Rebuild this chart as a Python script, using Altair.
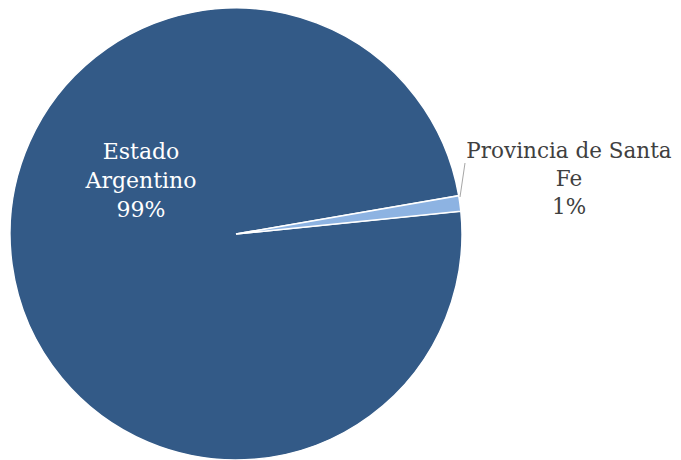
import altair as alt
import pandas as pd
import math

categories = ["Estado Argentino", "Provincia de Santa Fe"]
values = [98.9, 1.1]
colors = ["#335A87", "#8DB3E2"]
label_lines = [["Estado", "Argentino", "99%"], ["Provincia de Santa", "Fe", "1%"]]

df = pd.DataFrame({"category": categories, "value": values, "order": [0, 1]})

start = 84.2 * math.pi / 180

pie = alt.Chart(df).mark_arc(stroke="white", strokeWidth=1.5).encode(
    theta=alt.Theta("value:Q", stack=True, scale=alt.Scale(range=[start, start + 2 * math.pi])),
    color=alt.Color("category:N", scale=alt.Scale(domain=categories, range=colors), legend=None),
    order=alt.Order("order:Q"),
    x=alt.value(228),
    y=alt.value(226),
    radius=alt.value(226),
)

font = "DejaVu Serif"
lab1 = alt.Chart(pd.DataFrame({"t": [label_lines[0]]})).mark_text(
    font=font, fontSize=22, color="white", align="center", baseline="middle", lineHeight=29
).encode(text="t", x=alt.value(133), y=alt.value(144))

lab2 = alt.Chart(pd.DataFrame({"t": [label_lines[1]]})).mark_text(
    font=font, fontSize=21.5, color="#404040", align="center", baseline="middle", lineHeight=28
).encode(text="t", x=alt.value(561), y=alt.value(144))

leader = alt.Chart(pd.DataFrame({"a": [0]})).mark_rule(color="#A6A6A6", strokeWidth=1).encode(
    x=alt.value(452), y=alt.value(189), x2=alt.value(457), y2=alt.value(155)
)

chart = alt.layer(pie, leader, lab1, lab2).properties(
    width=665, height=452, padding=0, autosize=alt.AutoSizeParams(type="none")
).configure_view(stroke=None)

chart.save("out.html", embed_options={"renderer": "svg", "actions": False})
